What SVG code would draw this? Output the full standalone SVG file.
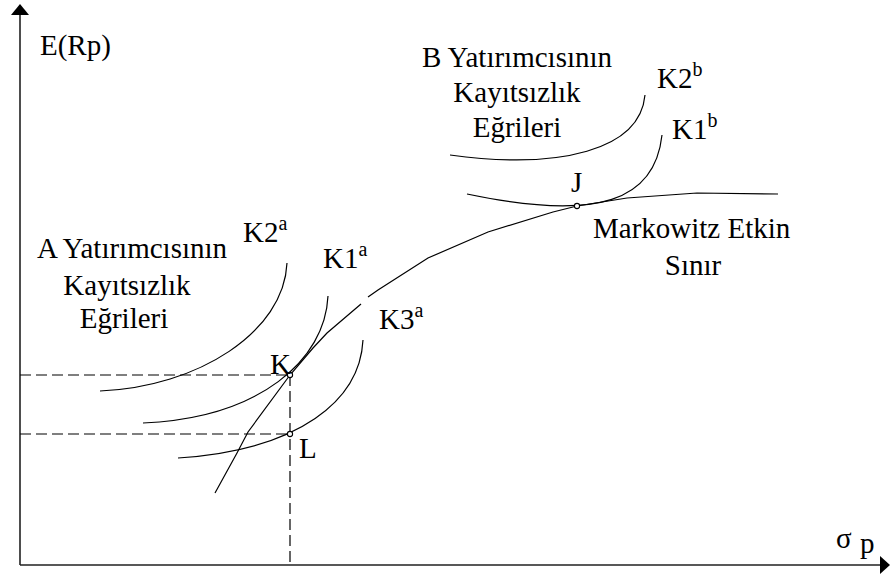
<svg xmlns="http://www.w3.org/2000/svg" width="890" height="576" viewBox="0 0 890 576">
  <style>
    .axis { stroke: #222; stroke-width: 1.6; fill: none; }
    .curve { stroke: #000; stroke-width: 1.2; fill: none; }
    .dash { stroke: #000; stroke-width: 1.2; fill: none; stroke-dasharray: 11 5; }
    .pt { fill: #fff; stroke: #000; stroke-width: 1.1; }
    text { font-family: "Liberation Serif", "Times New Roman", serif; font-size: 29px; fill: #000; }
    .sup { font-size: 20px; }
    .ctr { text-anchor: middle; }
  </style>

  <!-- axes -->
  <g id="axes">
    <path class="axis" d="M20,565 V14 M20,565 H881"/>
    <polygon points="20,4 11,15 29,15" fill="#000"/>
    <polygon points="890,565 880,556 880,574" fill="#000"/>
    <text x="40" y="55">E(Rp)</text>
    <text x="836" y="548">σ</text>
    <text x="860" y="553">p</text>
  </g>

  <!-- connectors: frontier, indifference curves and projections -->
  <g id="connectors">
    <!-- Markowitz efficient frontier -->
    <polyline class="curve" points="215,493 237,453 248,432 290,375 313,348 327,333 361,304"/>
    <polyline class="curve" points="368,297 378,290 428,258 488,232 553,212 577,206 627,198 697,193 778,194"/>
    <!-- A investor indifference curves -->
    <path class="curve" d="M287,263 C284,332 198,387 100,391"/>
    <path class="curve" d="M328,296 C325,360 260,418 143,423"/>
    <path class="curve" d="M363,340 C360,400 300,450 178,458"/>
    <!-- B investor indifference curves -->
    <path class="curve" d="M645,95 C640,150 560,170 450,155"/>
    <path class="curve" d="M662,135 C655,200 600,222 467,194"/>
    <!-- projections -->
    <path class="dash" d="M20,375 H290 M20,434 H290 M290,375 V565"/>
  </g>

  <g id="point-K">
    <circle class="pt" cx="290" cy="375" r="2.6"/>
    <text x="270" y="374">K</text>
  </g>
  <g id="point-L">
    <circle class="pt" cx="290" cy="434" r="2.6"/>
    <text x="299" y="458">L</text>
  </g>
  <g id="point-J">
    <circle class="pt" cx="577" cy="206" r="2.6"/>
    <text x="571" y="192">J</text>
  </g>

  <g id="label-A">
    <text class="ctr" x="132" y="258">A Yatırımcısının</text>
    <text class="ctr" x="127" y="295">Kayıtsızlık</text>
    <text class="ctr" x="124" y="328">Eğrileri</text>
  </g>
  <g id="label-B">
    <text class="ctr" x="517" y="67">B Yatırımcısının</text>
    <text class="ctr" x="517" y="102">Kayıtsızlık</text>
    <text class="ctr" x="517" y="137">Eğrileri</text>
  </g>
  <g id="label-frontier">
    <text x="593" y="238">Markowitz Etkin</text>
    <text class="ctr" x="693" y="275">Sınır</text>
  </g>

  <g id="curve-labels">
    <text x="243" y="242">K2<tspan class="sup" dy="-12">a</tspan></text>
    <text x="323" y="268">K1<tspan class="sup" dy="-12">a</tspan></text>
    <text x="379" y="329">K3<tspan class="sup" dy="-12">a</tspan></text>
    <text x="657" y="88">K2<tspan class="sup" dy="-12">b</tspan></text>
    <text x="672" y="139">K1<tspan class="sup" dy="-12">b</tspan></text>
  </g>
</svg>
